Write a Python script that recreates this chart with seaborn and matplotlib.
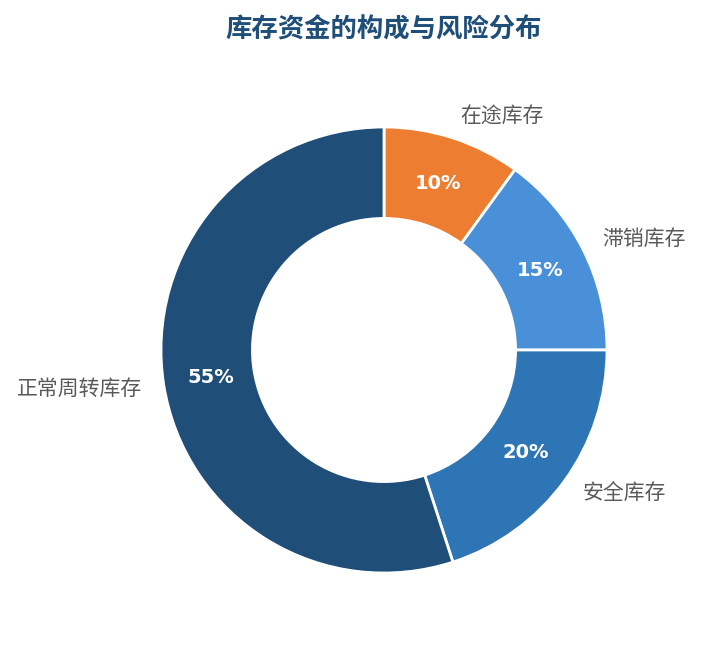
import seaborn as sns
import matplotlib
matplotlib.use("Agg")
import matplotlib.pyplot as plt

# data
categories = ["在途库存", "滞销库存", "安全库存", "正常周转库存"]
shares = [10, 15, 20, 55]
colors = ["#ED7D31", "#4A90D9", "#2E75B6", "#1F4E79"]

sns.set_theme(style="white")
plt.rcParams['font.family'] = ['Noto Sans CJK SC', 'DejaVu Sans']

W, H = 702, 645
fig = plt.figure(figsize=(W / 100, H / 100), dpi=100)
ax = fig.add_axes([0, 0, 1, 1])

wedges, texts, autotexts = ax.pie(
    shares, labels=categories, colors=colors, startangle=90, counterclock=False,
    autopct="%d%%", pctdistance=0.785, labeldistance=1.1,
    wedgeprops=dict(width=0.41, edgecolor="white", linewidth=2),
    textprops=dict(fontsize=15, color="#595959"),
)
for t in autotexts:
    t.set_color("white")
    t.set_fontweight("bold")
    t.set_fontsize(14)
    t.set_fontfamily(['DejaVu Sans'])

# pie centre / radius in pixels, set after pie() which resets the limits
cx, cy, r = 384, 295, 223
ax.set_aspect("auto")
ax.set_xlim((0 - cx) / r, (W - cx) / r)
ax.set_ylim((0 - cy) / r, (H - cy) / r)
ax.axis("off")

fig.text(384 / W, 1 - 30 / H, "库存资金的构成与风险分布", ha="center", va="center",
         fontsize=19, fontweight="bold", color="#1F4E79")

fig.savefig("out.png", dpi=100)
